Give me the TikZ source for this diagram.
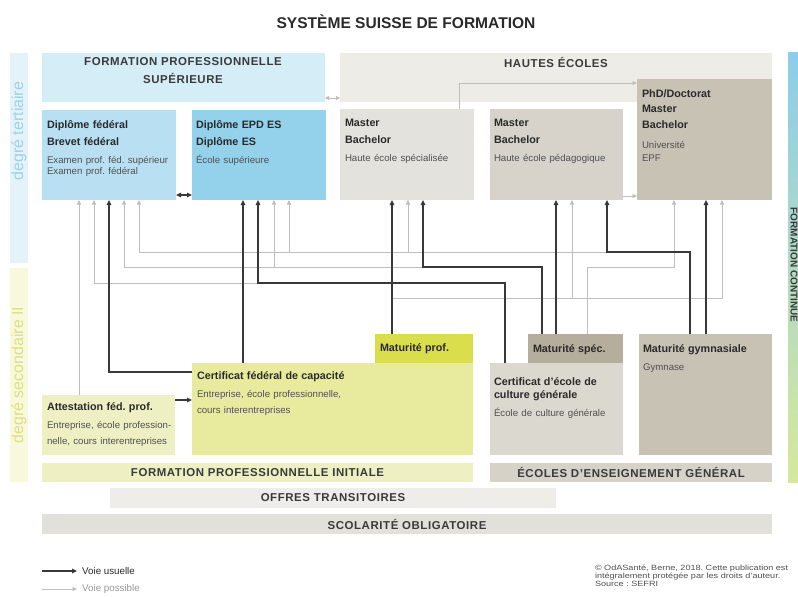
\documentclass[tikz,border=0pt]{standalone}
\usepackage{fontspec}
\setmainfont{Liberation Sans}
\usetikzlibrary{arrows.meta}
\setlength{\parindent}{0pt}
\frenchspacing
\definecolor{txtdark}{HTML}{2A2A2A}
\definecolor{txtgrey}{HTML}{505050}
\definecolor{txtband}{HTML}{3A3A3A}
\definecolor{lnDark}{HTML}{383838}
\definecolor{lnGrey}{HTML}{BEBEBE}
\definecolor{cFps}{HTML}{D4EDF7}
\definecolor{cDfed}{HTML}{B8E0F2}
\definecolor{cEs}{HTML}{94D1EB}
\definecolor{cHeb}{HTML}{EDECE7}
\definecolor{cHes}{HTML}{E4E2DC}
\definecolor{cHep}{HTML}{D7D3CA}
\definecolor{cPhd}{HTML}{C8C2B4}
\definecolor{cMpro}{HTML}{DADD4C}
\definecolor{cCfc}{HTML}{E8EB9E}
\definecolor{cAtt}{HTML}{EEF0C4}
\definecolor{cMsp}{HTML}{B6AE9D}
\definecolor{cEcg}{HTML}{DBD8CF}
\definecolor{cMgym}{HTML}{C8C2B4}
\definecolor{cEeg}{HTML}{D6D2C8}
\definecolor{cOt}{HTML}{EEEDE9}
\definecolor{cSo}{HTML}{E2E0DA}
\definecolor{cTerStrip}{HTML}{E4F2F9}
\definecolor{cTerTxt}{HTML}{9CD2EA}
\definecolor{cSecStrip}{HTML}{F7F8DC}
\definecolor{cSecTxt}{HTML}{E0DF80}
\definecolor{cFcTop}{HTML}{8CCDEA}
\definecolor{cFcBot}{HTML}{D6E89C}
\newcommand{\boxtitle}[1][17]{\fontsize{10.8}{#1}\selectfont\bfseries\color{txtdark}}
\newcommand{\boxsub}[1][12]{\fontsize{9.7}{#1}\selectfont\mdseries\color{txtgrey}}
\newcommand{\firstline}{\rule{0pt}{8.5bp}}
\tikzset{
  box/.style={anchor=north west, inner sep=0pt, outer sep=0pt, draw=none},
  lbl/.style={anchor=north west, inner sep=0pt, outer sep=0pt, text width=#1, align=left},
  bandtxt/.style={font=\fontsize{11.5}{18}\selectfont\bfseries\addfontfeature{LetterSpace=5}, text=txtband},
  usual/.style={draw=lnDark, line width=1.1bp, -{Triangle[length=5bp,width=4.5bp]}},
  poss/.style={draw=lnGrey, line width=0.8bp, -{Triangle[length=4.5bp,width=4bp]}},
  possline/.style={draw=lnGrey, line width=0.8bp},
  striptxt/.style={font=\fontsize{16}{16}\selectfont, inner sep=0pt},
  legtxt/.style={anchor=west, inner sep=0pt, font=\fontsize{9.8}{11}\selectfont}
}
\begin{document}
\begin{tikzpicture}[x=1bp,y=-1bp]
\useasboundingbox (0,0) rectangle (798,597);
\fill[white] (0,0) rectangle (798,597);

% title
\node[font=\fontsize{15.6}{18}\selectfont\bfseries, text=txtdark] (title) at (406,22) {SYSTÈME SUISSE DE FORMATION};

% side strips
\node[box, fill=cTerStrip, minimum width=18bp, minimum height=210bp] (terstrip) at (10,53) {};
\node[striptxt, rotate=90, text=cTerTxt] (tertxt) at (19,131) {degré tertiaire};
\node[box, fill=cSecStrip, minimum width=18bp, minimum height=214bp] (secstrip) at (10,268) {};
\node[striptxt, rotate=90, text=cSecTxt] (sectxt) at (19,375) {degré secondaire II};
\node[box, top color=cFcTop, bottom color=cFcBot, minimum width=12bp, minimum height=429bp] (fc) at (788,53) {};
\node[rotate=-90, font=\fontsize{10}{10}\selectfont\bfseries, text=txtband, inner sep=0pt] (fctxt) at (794,265) {FORMATION CONTINUE};

% top bands
\node[box, fill=cFps, minimum width=283bp, minimum height=49bp] (fps) at (42,53) {};
\node[bandtxt, align=center, inner sep=0pt] (fpstxt) at (183,71) {FORMATION PROFESSIONNELLE\\SUPÉRIEURE};
\node[box, fill=cHeb, minimum width=432bp, minimum height=49bp] (heb) at (340,53) {};
\node[bandtxt, inner sep=0pt] (hebtxt) at (556,62) {HAUTES ÉCOLES};

% tertiary boxes
\node[box, fill=cDfed, minimum width=134bp, minimum height=90bp] (dfed) at (42,110) {};
\node[box, fill=cEs, minimum width=134bp, minimum height=90bp] (es) at (192,110) {};
\node[box, fill=cHes, minimum width=134bp, minimum height=91bp] (hes) at (340,109) {};
\node[box, fill=cHep, minimum width=133bp, minimum height=91bp] (hep) at (490,109) {};
\node[box, fill=cPhd, minimum width=135bp, minimum height=121bp] (phd) at (637,79) {};

% secondary boxes
\node[box, fill=cCfc, minimum width=281bp, minimum height=92bp] (cfc) at (192,363) {};
\node[box, fill=cMpro, minimum width=98bp, minimum height=29bp] (mpro) at (375,334) {};
\node[box, fill=cAtt, minimum width=133bp, minimum height=60bp] (att) at (42,395) {};
\node[box, fill=cEcg, minimum width=133bp, minimum height=92bp] (ecg) at (490,363) {};
\node[box, fill=cMsp, minimum width=95bp, minimum height=29bp] (msp) at (528,334) {};
\node[box, fill=cMgym, minimum width=133bp, minimum height=121bp] (mgym) at (639,334) {};

% bottom bands
\node[box, bandtxt, fill=cAtt, minimum width=431bp, minimum height=19bp] (fpi) at (42,463) {FORMATION PROFESSIONNELLE INITIALE};
\node[box, bandtxt, fill=cEeg, minimum width=282bp, minimum height=19bp] (eeg) at (490,463) {ÉCOLES D'ENSEIGNEMENT GÉNÉRAL};
\node[box, bandtxt, fill=cOt, minimum width=446bp, minimum height=20bp] (ot) at (110,488) {OFFRES TRANSITOIRES};
\node[box, bandtxt, fill=cSo, minimum width=730bp, minimum height=20bp] (so) at (42,514) {SCOLARITÉ OBLIGATOIRE};

% ---- possible paths (grey) ----
\draw[poss] (att.north -| 79,0) -- (dfed.south -| 79,0);
\draw[poss] (ecg.north -| 505,0) -- (505,283) -- (94,283) -- (dfed.south -| 94,0);
\draw[poss] (msp.north -| 542,0) -- (542,267) -- (124,267) -- (dfed.south -| 124,0);
\draw[poss] (274,267) -- (es.south -| 274,0);
\draw[poss] (mgym.north -| 690,0) -- (690,252) -- (139,252) -- (dfed.south -| 139,0);
\draw[poss] (289,252) -- (es.south -| 289,0);
\draw[poss] (408,252) -- (hes.south -| 408,0);
\draw[poss] (msp.north -| 587,0) -- (587,267) -- (674,267) -- (phd.south -| 674,0);
\draw[poss] (mpro.north -| 392,0) -- (392,298) -- (722,298) -- (phd.south -| 722,0);
\draw[poss] (572,298) -- (hep.south -| 572,0);
\draw[poss] (hes.north -| 459,0) -- (459,83) -- (phd.west |- 0,83);
\draw[poss] (hep.east |- 0,196) -- (phd.west |- 0,196);
\draw[possline, {Triangle[length=4bp,width=4bp]}-{Triangle[length=4bp,width=4bp]}] (fps.east |- 0,98) -- (heb.west |- 0,98);

% ---- usual paths (black) ----
\draw[usual] (cfc.west |- 0,372) -- (109,372) -- (dfed.south -| 109,0);
\draw[usual] (cfc.north -| 243,0) -- (es.south -| 243,0);
\draw[usual] (ecg.north -| 505,0) -- (505,283) -- (258,283) -- (es.south -| 258,0);
\draw[usual] (mpro.north -| 392,0) -- (hes.south -| 392,0);
\draw[usual] (msp.north -| 542,0) -- (542,267) -- (423,267) -- (hes.south -| 423,0);
\draw[usual] (msp.north -| 556,0) -- (hep.south -| 556,0);
\draw[usual] (mgym.north -| 690,0) -- (690,252) -- (607,252) -- (hep.south -| 607,0);
\draw[usual] (mgym.north -| 706,0) -- (phd.south -| 706,0);
\draw[usual] (att.east |- 0,400) -- (cfc.west |- 0,400);
\draw[usual, {Triangle[length=5bp,width=4.5bp]}-{Triangle[length=5bp,width=4.5bp]}] (dfed.east |- 0,195) -- (es.west |- 0,195);

% ---- box texts ----
\node[lbl=200bp] (dfedT) at (47,120) {{\boxtitle\firstline Diplôme fédéral\\Brevet fédéral\par}\vspace{7bp}{\boxsub[11]Examen prof. féd. supérieur\\Examen prof. fédéral\par}};
\node[lbl=200bp] (esT) at (196,120) {{\boxtitle\firstline Diplôme EPD ES\\Diplôme ES\par}\vspace{7bp}{\boxsub[11]École supérieure\par}};
\node[lbl=200bp] (hesT) at (345,118) {{\boxtitle\firstline Master\\Bachelor\par}\vspace{7bp}{\boxsub[11]Haute école spécialisée\par}};
\node[lbl=200bp] (hepT) at (494,118) {{\boxtitle\firstline Master\\Bachelor\par}\vspace{7bp}{\boxsub[11]Haute école pédagogique\par}};
\node[lbl=200bp] (phdT) at (642,89) {{\boxtitle[15.5]\firstline PhD/Doctorat\\Master\\Bachelor\par}\vspace{7bp}{\boxsub[13]Université\\EPF\par}};
\node[lbl=200bp] (mproT) at (380,343) {{\boxtitle\firstline Maturité prof.\par}};
\node[lbl=200bp] (mspT) at (533,344) {{\boxtitle\firstline Maturité spéc.\par}};
\node[lbl=200bp] (mgymT) at (643,344) {{\boxtitle\firstline Maturité gymnasiale\par}\vspace{6.5bp}{\boxsub[12]Gymnase\par}};
\node[lbl=200bp] (ecgT) at (494,377) {{\boxtitle[13.5]\firstline Certificat d'école de\\culture générale\par}\vspace{6bp}{\boxsub[12]École de culture générale\par}};
\node[lbl=250bp] (cfcT) at (197,371) {{\boxtitle\firstline Certificat fédéral de capacité\par}\vspace{3bp}{\boxsub[15.5]Entreprise, école professionnelle,\\cours interentreprises\par}};
\node[lbl=200bp] (attT) at (47,402) {{\boxtitle\firstline Attestation féd. prof.\par}\vspace{2.5bp}{\boxsub[16]Entreprise, école profession-\\nelle, cours interentreprises\par}};

% ---- legend ----
\coordinate (lgA1) at (42,571);
\coordinate (lgA2) at (77,571);
\draw[usual] (lgA1) -- (lgA2);
\node[legtxt, text=txtdark] (lgAt) at (82,571) {Voie usuelle};
\coordinate (lgB1) at (42,589);
\coordinate (lgB2) at (77,589);
\draw[poss] (lgB1) -- (lgB2);
\node[legtxt, text=lnGrey!80!black] (lgBt) at (82,589) {Voie possible};

% ---- copyright ----
\node[lbl=230bp, font=\fontsize{7.6}{8}\selectfont\addfontfeature{FakeStretch=1.2}, text=txtgrey] (copy) at (595,565) {© OdASanté, Berne, 2018. Cette publication est\\intégralement protégée par les droits d'auteur.\\Source : SEFRI};
\end{tikzpicture}
\end{document}
